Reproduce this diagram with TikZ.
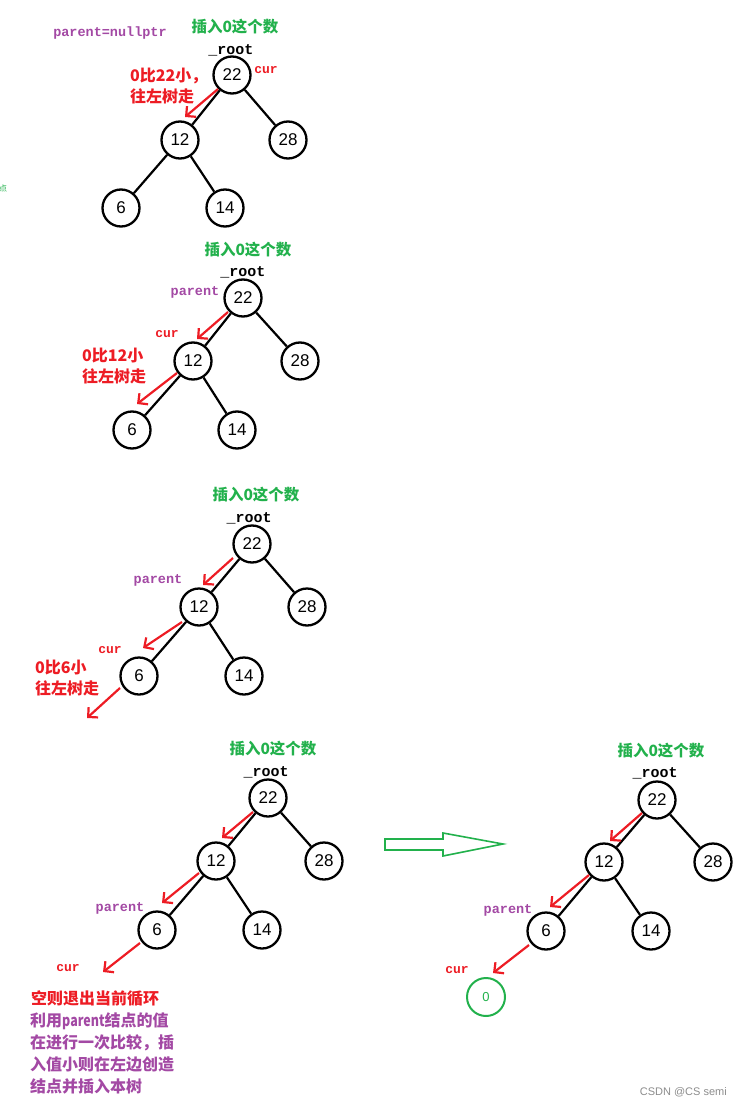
\documentclass[tikz,border=0pt]{standalone}
\usepackage{fontspec}
\setmainfont{Noto Sans CJK SC}
\newfontfamily\monof{Liberation Mono}
\newfontfamily\numf{Liberation Sans}
\usetikzlibrary{arrows.meta}
\definecolor{pgreen}{RGB}{34,177,76}
\definecolor{pred}{RGB}{237,28,36}
\definecolor{ppurple}{RGB}{163,73,164}
\tikzset{
  tn/.style={circle,draw=black,line width=2.3pt,minimum size=37pt,inner sep=0pt,font=\numf\fontsize{17}{17}\selectfont},
  newn/.style={circle,draw=pgreen,line width=2pt,minimum size=38pt,inner sep=0pt,text=pgreen,font=\numf\fontsize{13}{13}\selectfont},
  edge/.style={line width=2.2pt,black},
  rarr/.style={draw=pred,line width=2.2pt,-{Straight Barb[length=7pt,width=14pt,line width=2.2pt]}},
  title/.style={text=pgreen,font=\bfseries\fontsize{15.5}{15.5}\selectfont,inner sep=0pt},
  rootl/.style={font=\monof\bfseries\fontsize{15}{15}\selectfont,inner sep=0pt},
  curl/.style={text=pred,font=\monof\bfseries\fontsize{13}{13}\selectfont,inner sep=0pt},
  parl/.style={text=ppurple,font=\monof\bfseries\fontsize{13.5}{13.5}\selectfont,inner sep=0pt},
  rtxt/.style={text=pred,font=\bfseries\fontsize{16}{21.5}\selectfont,inner sep=0pt,align=left},
  ptxt/.style={text=ppurple,font=\bfseries\fontsize{16}{21.7}\selectfont,inner sep=0pt,align=left}
}
\begin{document}
\begin{tikzpicture}[x=1pt,y=-1pt]
\useasboundingbox (0,0) rectangle (741,1107);
% ---------- Tree 1 ----------
\node[title] (t1) at (235,27) {插入0这个数};
\node[parl] (pn1) at (110,33) {parent=nullptr};
\node[rootl] (r1) at (231,50) {\_root};
\node[tn] (a22) at (232,75) {22};
\node[tn] (a12) at (180,140) {12};
\node[tn] (a28) at (288,140) {28};
\node[tn] (a6) at (121,208) {6};
\node[tn] (a14) at (225,208) {14};
\draw[edge] (a22) -- (a12); \draw[edge] (a22) -- (a28);
\draw[edge] (a12) -- (a6); \draw[edge] (a12) -- (a14);
\node[curl] (c1) at (266,70) {cur};
\node[rtxt,anchor=west] (x1) at (130,86) {0比22小，\\往左树走};
\coordinate (a1s) at (218,89); \coordinate (a1e) at (185,117);
\draw[rarr] (a1s) -- (a1e);
\node[text=pgreen,font=\fontsize{8}{8}\selectfont,inner sep=0pt] (dot) at (3,188) {点};
% ---------- Tree 2 ----------
\node[title] (t2) at (248,250) {插入0这个数};
\node[rootl] (r2) at (243,272) {\_root};
\node[tn] (b22) at (243,298) {22};
\node[tn] (b12) at (193,361) {12};
\node[tn] (b28) at (300,361) {28};
\node[tn] (b6) at (132,430) {6};
\node[tn] (b14) at (237,430) {14};
\draw[edge] (b22) -- (b12); \draw[edge] (b22) -- (b28);
\draw[edge] (b12) -- (b6); \draw[edge] (b12) -- (b14);
\node[parl] (p2) at (195,292) {parent};
\node[curl] (c2) at (167,334) {cur};
\node[rtxt,anchor=west] (x2) at (82,366) {0比12小\\往左树走};
\coordinate (b1s) at (228,312); \coordinate (b1e) at (197,339);
\coordinate (b2s) at (177,373); \coordinate (b2e) at (137,404);
\draw[rarr] (b1s) -- (b1e);
\draw[rarr] (b2s) -- (b2e);
% ---------- Tree 3 ----------
\node[title] (t3) at (256,495) {插入0这个数};
\node[rootl] (r3) at (249,518) {\_root};
\node[tn] (c22) at (252,544) {22};
\node[tn] (cc12) at (199,607) {12};
\node[tn] (c28) at (307,607) {28};
\node[tn] (c6) at (139,676) {6};
\node[tn] (c14) at (244,676) {14};
\draw[edge] (c22) -- (cc12); \draw[edge] (c22) -- (c28);
\draw[edge] (cc12) -- (c6); \draw[edge] (cc12) -- (c14);
\node[parl] (p3) at (158,580) {parent};
\node[curl] (c3) at (110,650) {cur};
\node[rtxt,anchor=west] (x3) at (35,678) {0比6小\\往左树走};
\coordinate (c1s) at (233,558); \coordinate (c1e) at (203,585);
\coordinate (c2s) at (182,622); \coordinate (c2e) at (143,648);
\coordinate (c3s) at (120,688); \coordinate (c3e) at (87,718);
\draw[rarr] (c1s) -- (c1e);
\draw[rarr] (c2s) -- (c2e);
\draw[rarr] (c3s) -- (c3e);
% ---------- Tree 4 ----------
\node[title] (t4) at (273,749) {插入0这个数};
\node[rootl] (r4) at (266,772) {\_root};
\node[tn] (d22) at (268,798) {22};
\node[tn] (d12) at (216,861) {12};
\node[tn] (d28) at (324,861) {28};
\node[tn] (d6) at (157,930) {6};
\node[tn] (d14) at (262,930) {14};
\draw[edge] (d22) -- (d12); \draw[edge] (d22) -- (d28);
\draw[edge] (d12) -- (d6); \draw[edge] (d12) -- (d14);
\node[parl] (p4) at (120,908) {parent};
\node[curl] (c4) at (68,968) {cur};
\coordinate (d1s) at (253,812); \coordinate (d1e) at (222,838);
\coordinate (d2s) at (199,873); \coordinate (d2e) at (162,903);
\coordinate (d3s) at (140,943); \coordinate (d3e) at (103,972);
\draw[rarr] (d1s) -- (d1e);
\draw[rarr] (d2s) -- (d2e);
\draw[rarr] (d3s) -- (d3e);
\node[rtxt,anchor=west] (x4) at (31,998) {空则退出当前循环};
\node[ptxt,anchor=north west] (x5) at (30,1013) {利用\scalebox{0.78}[1]{parent}结点的值\\在进行一次比较，插\\入值小则在左边创造\\结点并插入本树};
% ---------- hollow arrow ----------
\draw[draw=pgreen,line width=1.6pt,line join=miter] (385,839) -- (443,839) -- (443,833) -- (503,844) -- (443,856) -- (443,850) -- (385,850) -- cycle;
% ---------- Tree 5 ----------
\node[title] (t5) at (661,751) {插入0这个数};
\node[rootl] (r5) at (655,773) {\_root};
\node[tn] (e22) at (657,800) {22};
\node[tn] (e12) at (604,862) {12};
\node[tn] (e28) at (713,862) {28};
\node[tn] (e6) at (546,931) {6};
\node[tn] (e14) at (651,931) {14};
\node[newn] (e0) at (486,997) {0};
\draw[edge] (e22) -- (e12); \draw[edge] (e22) -- (e28);
\draw[edge] (e12) -- (e6); \draw[edge] (e12) -- (e14);
\node[parl] (p5) at (508,910) {parent};
\node[curl] (c5) at (457,970) {cur};
\coordinate (e1s) at (642,813); \coordinate (e1e) at (610,841);
\coordinate (e2s) at (589,875); \coordinate (e2e) at (550,907);
\coordinate (e3s) at (529,945); \coordinate (e3e) at (493,973);
\draw[rarr] (e1s) -- (e1e);
\draw[rarr] (e2s) -- (e2e);
\draw[rarr] (e3s) -- (e3e);
% watermark
\node[anchor=east,text=black!45,font=\numf\fontsize{11}{11}\selectfont,inner sep=0pt] (wm) at (727,1092) {CSDN @CS semi};
\end{tikzpicture}
\end{document}
